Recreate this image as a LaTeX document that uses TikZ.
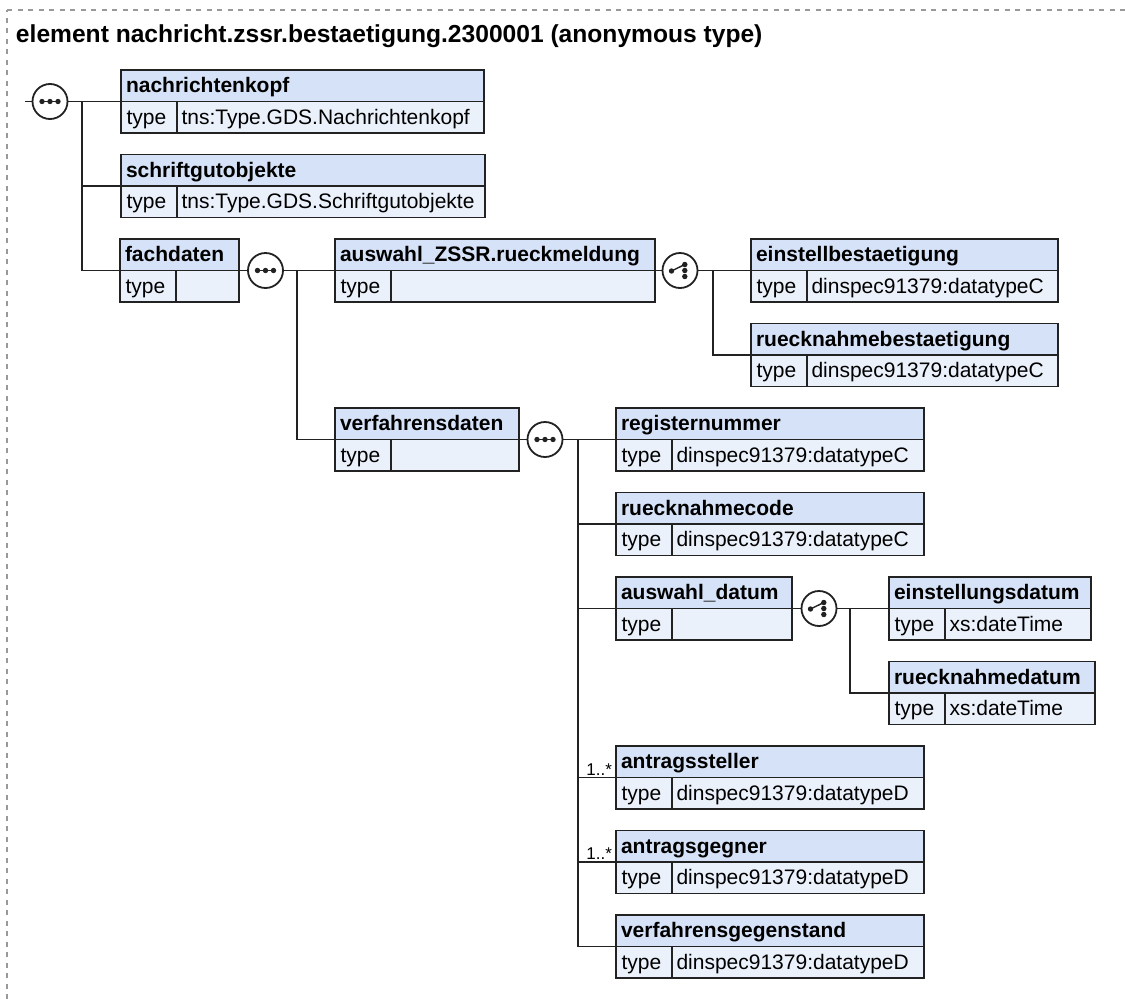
\documentclass[tikz,border=0pt]{standalone}
\usepackage{fontspec}
\setmainfont{Liberation Sans}
\usetikzlibrary{calc}
\definecolor{hdrc}{HTML}{D6E2F7}
\definecolor{rowc}{HTML}{EBF1FB}
\definecolor{edgec}{HTML}{222222}
\definecolor{dashc}{HTML}{999999}
\tikzset{
  ln/.style={draw=edgec, line width=1.8pt},
  elbox/.style={rectangle, minimum height=63pt, inner sep=0pt, outer sep=0pt},
  lbl/.style={inner sep=0pt, outer sep=0pt, text=black, font=\fontsize{21}{25}\selectfont},
  lblb/.style={lbl, font=\fontsize{21}{25}\selectfont\bfseries},
  grp/.style={circle, minimum size=35pt, inner sep=0pt, outer sep=0pt, draw=edgec, fill=white, line width=1.8pt},
  bordline/.style={draw=dashc, line width=1.4pt, dash pattern=on 5pt off 5.5pt},
}
\newcommand\xelem[6]{%
  \node[elbox, minimum width=#4pt, anchor=north west] (#1) at (#2pt,-#3pt) {};
  \fill[hdrc] (#1.north west) rectangle ([yshift=-31.5pt]#1.north east);
  \fill[rowc] ([yshift=-31.5pt]#1.north west) rectangle (#1.south east);
  \draw[ln] ([yshift=-31.5pt]#1.north west) -- ([yshift=-31.5pt]#1.north east);
  \draw[ln] ([xshift=56pt,yshift=-31.5pt]#1.north west) -- ([xshift=56pt]#1.south west);
  \draw[ln] (#1.north west) rectangle (#1.south east);
  \node[lblb, anchor=base west] (#1-t) at ([xshift=5pt,yshift=-22.5pt]#1.north west) {#5};
  \node[lbl, anchor=base west] (#1-k) at ([xshift=5.5pt,yshift=-54pt]#1.north west) {type};
  \node[lbl, anchor=base west] (#1-v) at ([xshift=60.5pt,yshift=-54pt]#1.north west) {#6};
}
\newcommand\seqdots[1]{%
  \draw[draw=edgec, line width=1.4pt] ([xshift=-10pt]#1.center) -- ([xshift=10pt]#1.center);
  \fill[edgec] ([xshift=-8pt]#1.center) circle (2.7pt);
  \fill[edgec] (#1.center) circle (2.7pt);
  \fill[edgec] ([xshift=8pt]#1.center) circle (2.7pt);
}
\newcommand\choicedots[1]{%
  \draw[draw=edgec, line width=1.4pt] ([xshift=-8.5pt,yshift=-0.5pt]#1.center) -- ([xshift=4.8pt,yshift=6pt]#1.center);
  \fill[edgec] ([xshift=-8.5pt,yshift=-0.5pt]#1.center) circle (2.7pt);
  \fill[edgec] ([xshift=4.8pt,yshift=6pt]#1.center) circle (2.7pt);
  \fill[edgec] ([xshift=4.8pt]#1.center) circle (2.7pt);
  \fill[edgec] ([xshift=4.8pt,yshift=-6pt]#1.center) circle (2.7pt);
}
\begin{document}
\begin{tikzpicture}[x=1pt,y=1pt]
\useasboundingbox (0,0) rectangle (1125,-999);
\draw[bordline] (7,-999) -- (7,-10);
\draw[bordline] (7,-10) -- (1125,-10);
\node[lblb, anchor=base west, font=\fontsize{24.6}{28}\selectfont\bfseries] (title) at (16,-42) {element nachricht.zssr.bestaetigung.2300001 (anonymous type)};
% element boxes
\xelem{nk}{121}{70}{363}{nachrichtenkopf}{tns:Type.GDS.Nachrichtenkopf}
\xelem{sg}{121}{154.5}{364}{schriftgutobjekte}{tns:Type.GDS.Schriftgutobjekte}
\xelem{fd}{120}{239}{119}{fachdaten}{}
\xelem{az}{335}{239}{320}{auswahl\_ZSSR.rueckmeldung}{}
\xelem{eb}{751}{239}{307}{einstellbestaetigung}{dinspec91379:datatypeC}
\xelem{rb}{751}{323.5}{307}{ruecknahmebestaetigung}{dinspec91379:datatypeC}
\xelem{vd}{335}{408}{184}{verfahrensdaten}{}
\xelem{rn}{616}{408}{308}{registernummer}{dinspec91379:datatypeC}
\xelem{rc}{616}{492.5}{308}{ruecknahmecode}{dinspec91379:datatypeC}
\xelem{ad}{616}{577}{176}{auswahl\_datum}{}
\xelem{ed}{889}{577}{202}{einstellungsdatum}{xs:dateTime}
\xelem{rd}{889}{661.5}{206}{ruecknahmedatum}{xs:dateTime}
\xelem{as}{616}{746}{308}{antragssteller}{dinspec91379:datatypeD}
\xelem{ag}{616}{830.5}{308}{antragsgegner}{dinspec91379:datatypeD}
\xelem{vg}{616}{915}{308}{verfahrensgegenstand}{dinspec91379:datatypeD}
% compositors
\node[grp] (s1) at (50,-101.5) {};
\node[grp] (s2) at (265.5,-270.5) {};
\node[grp] (c1) at (680,-270.5) {};
\node[grp] (s3) at (545,-439.5) {};
\node[grp] (c2) at (819,-608.5) {};
\seqdots{s1}\seqdots{s2}\seqdots{s3}
\choicedots{c1}\choicedots{c2}
% connectors
\coordinate (root) at (25,-101.5);
\coordinate (t1) at (82,-101.5);
\coordinate (t2) at (297,-270.5);
\coordinate (t3) at (713,-270.5);
\coordinate (t4) at (578,-439.5);
\coordinate (t5) at (850,-608.5);
\draw[ln] (root) -- (s1);
\draw[ln] (s1) -- (nk.west);
\draw[ln] (t1) |- (sg.west);
\draw[ln] (t1) |- (fd.west);
\draw[ln] (fd.east) -- (s2);
\draw[ln] (s2) -- (az.west);
\draw[ln] (t2) |- (vd.west);
\draw[ln] (az.east) -- (c1);
\draw[ln] (c1) -- (eb.west);
\draw[ln] (t3) |- (rb.west);
\draw[ln] (vd.east) -- (s3);
\draw[ln] (s3) -- (rn.west);
\draw[ln] (t4) |- (rc.west);
\draw[ln] (t4) |- (ad.west);
\draw[ln] (t4) |- (as.west);
\draw[ln] (t4) |- (ag.west);
\draw[ln] (t4) |- (vg.west);
\draw[ln] (ad.east) -- (c2);
\draw[ln] (c2) -- (ed.west);
\draw[ln] (t5) |- (rd.west);
% occurrence labels
\node[lbl, anchor=base east, font=\fontsize{17}{20}\selectfont] (m1) at (612,-775) {1..*};
\node[lbl, anchor=base east, font=\fontsize{17}{20}\selectfont] (m2) at (612,-859.5) {1..*};
\end{tikzpicture}
\end{document}
